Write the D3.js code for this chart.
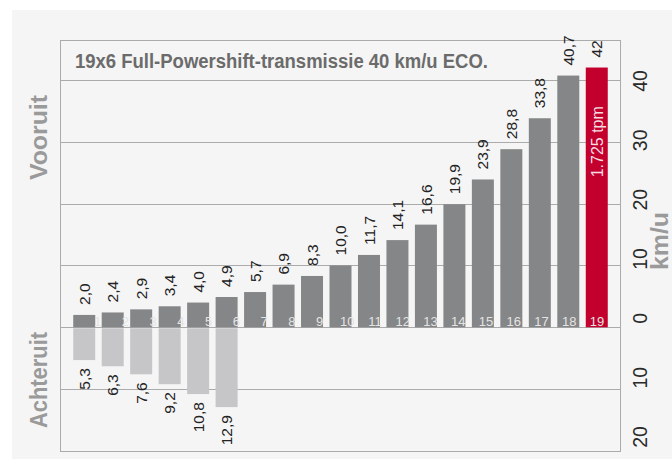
<!DOCTYPE html>
<html>
<head>
<meta charset="utf-8">
<script src="https://cdn.jsdelivr.net/npm/d3@7"></script>
<style>
  body { margin: 0; background: #fff; }
  text { font-family: "Liberation Sans", Arial, sans-serif; }
</style>
</head>
<body>
<script>
// gears 1..19, forward speeds (km/u) and the 6 reverse gears
var gears = [1, 2, 3, 4, 5, 6, 7, 8, 9, 10, 11, 12, 13, 14, 15, 16, 17, 18, 19];
var forwardSpeeds = [2.0, 2.4, 2.9, 3.4, 4.0, 4.9, 5.7, 6.9, 8.3, 10.0, 11.7, 14.1, 16.6, 19.9, 23.9, 28.8, 33.8, 40.7, 42];
var reverseSpeeds = [5.3, 6.3, 7.6, 9.2, 10.8, 12.9];
var axisTicks = [40, 30, 20, 10, 0, -10, -20];
var gridTicks = [30, 20, 10, 0, -10];
var titleText = "19x6 Full-Powershift-transmissie 40 km/u ECO.";
var topGearNote = "1.725 tpm";

var W = 672, H = 471;
var frame = { left: 60, top: 40, right: 620, bottom: 451, titleLine: 80 };

var svg = d3.select("body").append("svg")
  .attr("width", W)
  .attr("height", H);

// light grey panel
svg.append("rect")
  .attr("x", 12).attr("y", 10)
  .attr("width", W - 12).attr("height", 449)
  .attr("fill", "#f5f5f5");

var y = d3.scaleLinear().domain([-20, 46.45]).range([frame.bottom, frame.top]);
var x = d3.scaleBand().domain(gears).range([70, 611]).paddingInner(0.2275).paddingOuter(0.11375);
// the gear numbers sit on a slightly tighter spacing than the bars
var xNum = d3.scalePoint().domain(gears).range([97.5, 597]);
// right hand labels also drift a bit from the grid
var yLab = d3.scaleLinear().domain([40, -20]).range([81, 437]);

var lineColor = "#ababab";

// grid lines
svg.selectAll("line.grid")
  .data(gridTicks)
  .enter().append("line")
  .attr("class", "grid")
  .attr("x1", frame.left).attr("x2", frame.right)
  .attr("y1", function(d) { return Math.round(y(d)) + 0.5; })
  .attr("y2", function(d) { return Math.round(y(d)) + 0.5; })
  .attr("stroke", lineColor);

// title separator (= the 40 line)
svg.append("line")
  .attr("x1", frame.left).attr("x2", frame.right)
  .attr("y1", frame.titleLine + 0.5).attr("y2", frame.titleLine + 0.5)
  .attr("stroke", lineColor);

// frame
svg.append("rect")
  .attr("x", frame.left + 0.5).attr("y", frame.top + 0.5)
  .attr("width", frame.right - frame.left).attr("height", frame.bottom - frame.top)
  .attr("fill", "none")
  .attr("stroke", lineColor);

// forward bars
svg.selectAll("rect.fwd")
  .data(forwardSpeeds)
  .enter().append("rect")
  .attr("class", "fwd")
  .attr("x", function(d, i) { return x(gears[i]); })
  .attr("width", x.bandwidth())
  .attr("y", function(d) { return y(d); })
  .attr("height", function(d) { return y(0) - y(d); })
  .attr("fill", function(d, i) { return i == gears.length - 1 ? "#c3002d" : "#858687"; });

// reverse bars
svg.selectAll("rect.rev")
  .data(reverseSpeeds)
  .enter().append("rect")
  .attr("class", "rev")
  .attr("x", function(d, i) { return x(gears[i]); })
  .attr("width", x.bandwidth())
  .attr("y", y(0) + 1)
  .attr("height", function(d) { return y(-d) - y(0) - 1; })
  .attr("fill", "#c6c6c8");

function fmt(d, i) {
  if (i == gears.length - 1) return String(d);
  return d.toFixed(1).replace(".", ",");
}

// value labels above forward bars
svg.selectAll("text.fwdLab")
  .data(forwardSpeeds)
  .enter().append("text")
  .attr("class", "fwdLab")
  .attr("transform", function(d, i) {
    return "translate(" + (x(gears[i]) + x.bandwidth() / 2) + "," + (y(d) - 10) + ") rotate(-90)";
  })
  .attr("dy", "0.36em")
  .attr("font-size", 15.5)
  .attr("fill", "#222")
  .text(fmt);

// value labels below reverse bars
svg.selectAll("text.revLab")
  .data(reverseSpeeds)
  .enter().append("text")
  .attr("class", "revLab")
  .attr("transform", function(d, i) {
    return "translate(" + (x(gears[i]) + x.bandwidth() / 2) + "," + (y(-d) + 8) + ") rotate(-90)";
  })
  .attr("dy", "0.36em")
  .attr("text-anchor", "end")
  .attr("font-size", 15.5)
  .attr("fill", "#222")
  .text(function(d) { return d.toFixed(1).replace(".", ","); });

// gear numbers at the foot of each bar
svg.selectAll("text.gear")
  .data(gears)
  .enter().append("text")
  .attr("class", "gear")
  .attr("x", function(d) { return xNum(d); })
  .attr("y", y(0) - 1.5)
  .attr("text-anchor", "middle")
  .attr("font-size", 13)
  .attr("fill", "#e4e4e4")
  .text(function(d) { return d; });

// note inside top gear
svg.append("text")
  .attr("transform", "translate(" + (x(gears[18]) + x.bandwidth() / 2) + "," + y(30) + ") rotate(-90)")
  .attr("dy", "0.36em")
  .attr("text-anchor", "middle")
  .attr("font-size", 16)
  .attr("fill", "#f7dde2")
  .text(topGearNote);

// right hand axis labels
svg.selectAll("text.axis")
  .data(axisTicks)
  .enter().append("text")
  .attr("class", "axis")
  .attr("transform", function(d) { return "translate(647," + yLab(d) + ") rotate(-90)"; })
  .attr("text-anchor", "middle")
  .attr("font-size", 19.5)
  .attr("fill", "#2a2a2a")
  .text(function(d) { return Math.abs(d); });

// title
svg.append("text")
  .attr("x", 75).attr("y", 67.5)
  .attr("font-size", 20)
  .attr("font-weight", "bold")
  .attr("fill", "#6b6b6b")
  .attr("textLength", 413)
  .attr("lengthAdjust", "spacingAndGlyphs")
  .text(titleText);

// side labels
function sideLabel(txt, cx, cy, len) {
  svg.append("text")
    .attr("transform", "translate(" + cx + "," + cy + ") rotate(-90)")
    .attr("text-anchor", "middle")
    .attr("font-size", 24)
    .attr("font-weight", "bold")
    .attr("fill", "#9a9a9a")
    .attr("textLength", len)
    .attr("lengthAdjust", "spacingAndGlyphs")
    .text(txt);
}
sideLabel("Vooruit", 47, 137.5, 85);
sideLabel("Achteruit", 47, 380, 96);
sideLabel("km/u", 668, 241, 58);
</script>
</body>
</html>
